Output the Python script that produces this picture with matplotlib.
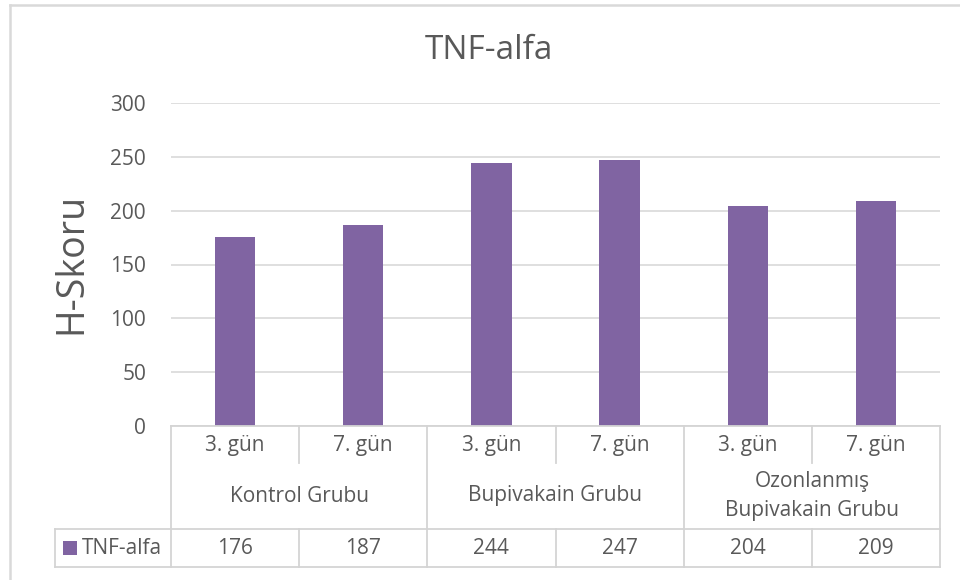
import matplotlib
matplotlib.use("Agg")
import matplotlib.pyplot as plt
from matplotlib.lines import Line2D
from matplotlib.patches import Rectangle
from matplotlib import transforms

plt.rcParams['font.family'] = ['Open Sans', 'DejaVu Sans']

# Data
days = ["3. gün", "7. gün", "3. gün", "7. gün", "3. gün", "7. gün"]
groups = ["Kontrol Grubu", "Bupivakain Grubu", "Ozonlanmış\nBupivakain Grubu"]
series_name = "TNF-alfa"
values = [176, 187, 244, 247, 204, 209]
yticks = [0, 50, 100, 150, 200, 250, 300]

W, H = 960, 580
BAR = "#8064A2"
TXT = "#595959"
GRID = "#d9d9d9"
LINE = "#d4d4d4"

fig = plt.figure(figsize=(W / 100, H / 100), dpi=100)


def fx(px):
    return px / W


def fy(px):
    return 1 - px / H


# Plot area
left, right, top, bottom = 171, 940, 103, 426
ax = fig.add_axes([fx(left), fy(bottom), fx(right - left), (bottom - top) / H])
x = list(range(len(values)))
ax.bar(x, values, width=0.315, color=BAR, zorder=3)
ax.set_xlim(-0.5, len(values) - 0.5)
ax.set_ylim(0, 300)
ax.set_yticks(yticks)
ax.set_yticklabels([str(t) for t in yticks], fontsize=15, color=TXT)
ax.tick_params(axis='y', length=0, pad=18)
ax.set_xticks([])
for s in ax.spines.values():
    s.set_visible(False)
ax.yaxis.grid(True, color=GRID, linewidth=1.2, zorder=0)
ax.set_axisbelow(True)

# Title and axis label
fig.text(fx(489), fy(59), "TNF-alfa", fontsize=24, color=TXT,
         ha='center', va='baseline')
fig.text(fx(71), fy(263), "H-Skoru", fontsize=27, color=TXT,
         ha='center', va='center', rotation=90)

# Data table below the plot area (x follows the category axis)
tr = transforms.blended_transform_factory(ax.transData, fig.transFigure)
n = len(values)
y_top, y_day, y_grp, y_bot = 426, 463, 529, 567


def hline(x0, x1, ypx, t=tr):
    fig.add_artist(Line2D([x0, x1], [fy(ypx), fy(ypx)], transform=t,
                          color=LINE, linewidth=1.3))


def vline(xv, y0, y1, t=tr):
    fig.add_artist(Line2D([xv, xv], [fy(y0), fy(y1)], transform=t,
                          color=LINE, linewidth=1.3))


# horizontal rules
hline(-0.5, n - 0.5, y_top)
hline(-0.5, n - 0.5, y_grp)
hline(-0.5, n - 0.5, y_bot)
figtr = fig.transFigure
hline(fx(55), fx(left), y_grp, figtr)
hline(fx(55), fx(left), y_bot, figtr)

# vertical rules
for i in range(n + 1):
    xb = i - 0.5
    if i % 2 == 0:
        vline(xb, y_top, y_bot)
    else:
        vline(xb, y_top, y_day)
        vline(xb, y_grp, y_bot)
vline(fx(55), y_grp, y_bot, figtr)

# cell texts
for i, (d, v) in enumerate(zip(days, values)):
    fig.text(i, fy(445), d, transform=tr, fontsize=15, color=TXT,
             ha='center', va='center')
    fig.text(i, fy(548), str(v), transform=tr, fontsize=15, color=TXT,
             ha='center', va='center')
for g, name in enumerate(groups):
    fig.text(2 * g + 0.5, fy(496), name, transform=tr, fontsize=15,
             color=TXT, ha='center', va='center', linespacing=1.5)

# legend key cell
fig.add_artist(Rectangle((fx(63), fy(555)), fx(14), 14 / H,
                         transform=figtr, facecolor=BAR, edgecolor='none'))
fig.text(fx(82), fy(548), series_name, fontsize=15, color=TXT,
         ha='left', va='center')

# chart area border
fig.add_artist(Line2D([fx(9.5), fx(9.5)], [fy(5), 0], transform=figtr,
                      color=GRID, linewidth=1.8))
fig.add_artist(Line2D([fx(9.5), 1], [fy(5), fy(5)], transform=figtr,
                      color=GRID, linewidth=1.8))

fig.savefig("out.png", dpi=100, facecolor='white')
